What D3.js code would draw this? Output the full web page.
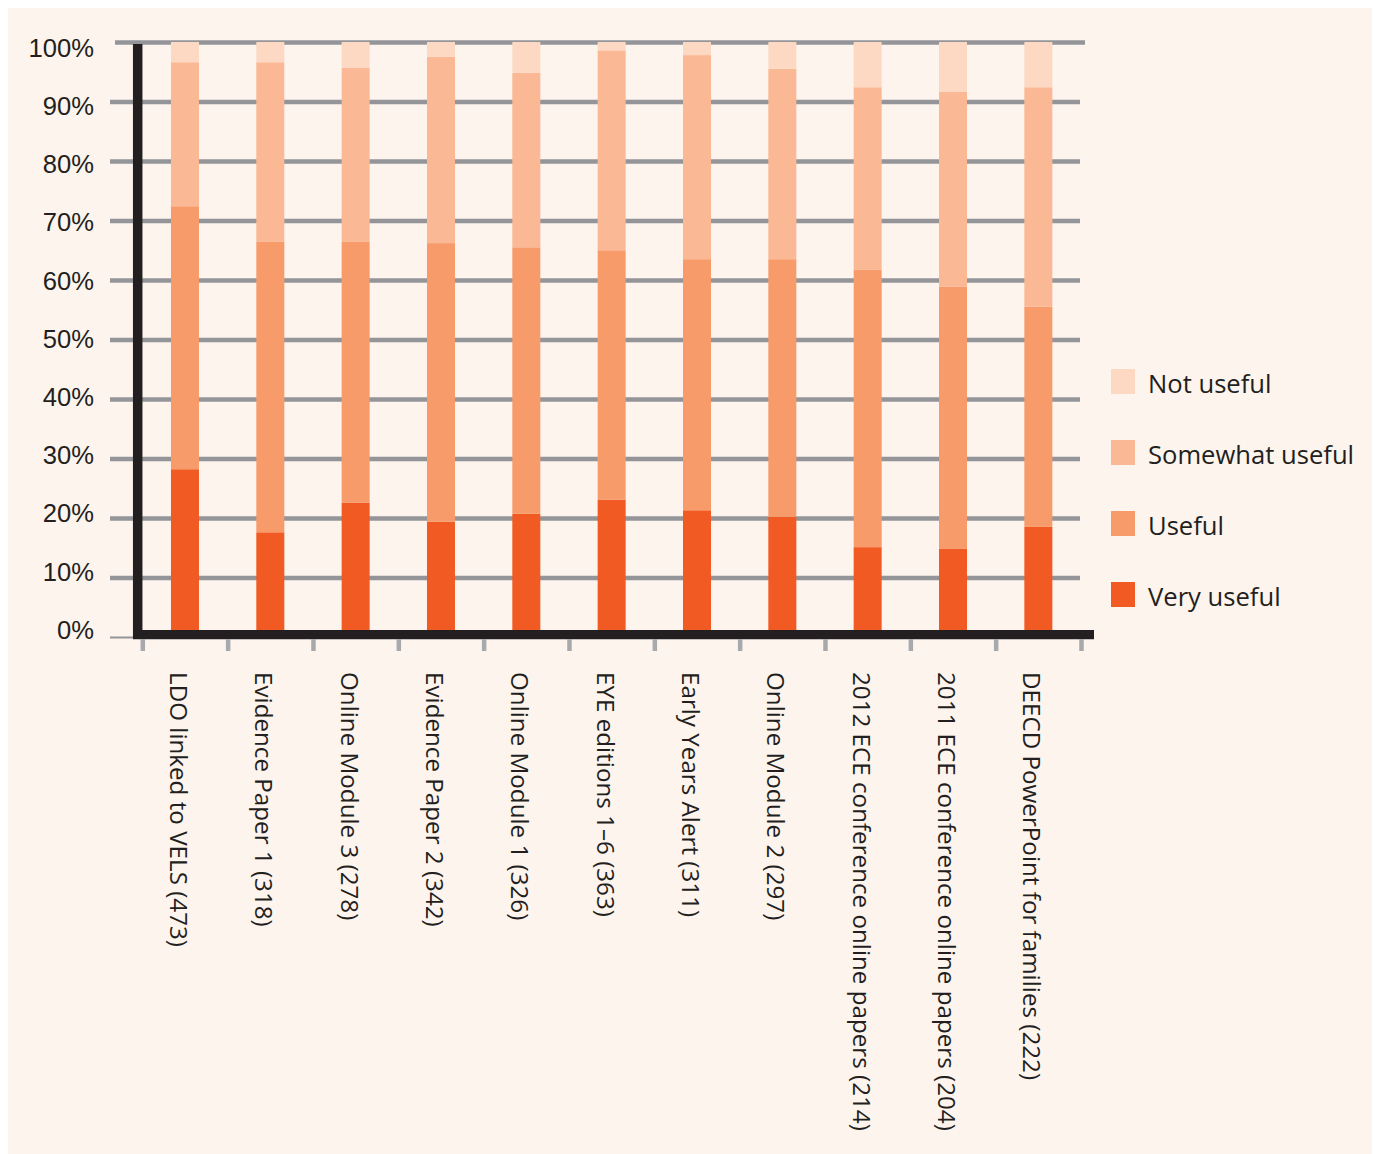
<!DOCTYPE html>
<html>
<head>
<meta charset="utf-8">
<script src="https://cdn.jsdelivr.net/npm/d3@7"></script>
<style>
  body { margin: 0; background: #fff; }
  svg { display: block; font-family: "Open Sans", sans-serif; }
  text { fill: #231f20; }
</style>
</head>
<body>
<svg width="1375" height="1154"></svg>
<script>
const categories = [
  "LDO linked to VELS (473)",
  "Evidence Paper 1 (318)",
  "Online Module 3 (278)",
  "Evidence Paper 2 (342)",
  "Online Module 1 (326)",
  "EYE editions 1–6 (363)",
  "Early Years Alert (311)",
  "Online Module 2 (297)",
  "2012 ECE conference online papers (214)",
  "2011 ECE conference online papers (204)",
  "DEECD PowerPoint for families (222)"
];
const veryUseful     = [28.2, 17.6, 22.6, 19.4, 20.7, 23.1, 21.3, 20.2, 15.1, 14.8, 18.5];
const useful         = [44.2, 48.8, 43.8, 46.8, 44.8, 41.9, 42.2, 43.3, 46.6, 44.1, 37.0];
const somewhatUseful = [24.2, 30.2, 29.3, 31.3, 29.3, 33.6, 34.3, 32.0, 30.7, 32.7, 36.9];
const notUseful      = [3.4, 3.4, 4.3, 2.5, 5.2, 1.4, 2.2, 4.5, 7.6, 8.4, 7.6];
const seriesNames = ["Very useful", "Useful", "Somewhat useful", "Not useful"];
const yTicks = [0, 10, 20, 30, 40, 50, 60, 70, 80, 90, 100];

const colors = {
  "Very useful": "#f15a22",
  "Useful": "#f79b6b",
  "Somewhat useful": "#fab994",
  "Not useful": "#fdd9c3"
};

const svg = d3.select("svg");

svg.append("rect")
    .attr("x", 8).attr("y", 8)
    .attr("width", 1364).attr("height", 1146)
    .attr("fill", "#fdf4ee");

const rows = categories.map((c, i) => ({
  category: c,
  "Very useful": veryUseful[i],
  "Useful": useful[i],
  "Somewhat useful": somewhatUseful[i],
  "Not useful": notUseful[i]
}));

const x = d3.scaleBand()
    .domain(categories)
    .range([142.3, 1081])
    .padding(0);

const y = d3.scaleLinear()
    .domain([0, 100])
    .range([637, 42]);

// labels sit on a slightly tighter scale than the grid in the original
const yLab = d3.scaleLinear()
    .domain([0, 100])
    .range([630, 48]);

// gridlines (the top one is nudged right, the 0% one is a short stub)
const grid = svg.append("g")
    .attr("transform", "translate(110,0)")
    .call(d3.axisLeft(y).tickValues(yTicks).tickSize(-970).tickFormat(""));
grid.select(".domain").remove();
grid.selectAll(".tick line")
    .attr("stroke", "#939598")
    .attr("stroke-width", d => d === 0 ? 2 : 4.7)
    .attr("x1", d => d === 100 ? 5 : 0)
    .attr("x2", d => d === 0 ? 25 : d === 100 ? 975 : 970);

// y labels
const yAxis = svg.append("g")
    .attr("transform", "translate(110,0)")
    .call(d3.axisLeft(yLab).tickValues(yTicks).tickSize(0).tickPadding(16).tickFormat(d => d + "%"));
yAxis.select(".domain").remove();
yAxis.selectAll("text")
    .attr("font-size", 25.6)
    .style("fill", "#231f20");

// stacked bars
const stacked = d3.stack().keys(seriesNames)(rows);
const barW = 28;

svg.append("g")
  .selectAll("g")
  .data(stacked)
  .join("g")
    .attr("fill", d => colors[d.key])
  .selectAll("rect")
  .data(d => d)
  .join("rect")
    .attr("x", d => x(d.data.category) + (x.bandwidth() - barW) / 2)
    .attr("y", d => y(d[1]))
    .attr("width", barW)
    .attr("height", d => y(d[0]) - y(d[1]));

// black axis lines
svg.append("line")
    .attr("x1", 137.7).attr("x2", 137.7)
    .attr("y1", 44).attr("y2", 639)
    .attr("stroke", "#231f20").attr("stroke-width", 9.5);
svg.append("line")
    .attr("x1", 133).attr("x2", 1094)
    .attr("y1", 634.6).attr("y2", 634.6)
    .attr("stroke", "#231f20").attr("stroke-width", 9.4);

// category tick marks at band edges
const edges = d3.scaleLinear().domain([0, categories.length]).range(x.range());
const xTicks = svg.append("g")
    .attr("transform", "translate(0,639)")
    .call(d3.axisBottom(edges).tickValues(d3.range(categories.length + 1)).tickSize(12).tickFormat(""));
xTicks.select(".domain").remove();
xTicks.selectAll(".tick line")
    .attr("stroke", "#a7a9ac")
    .attr("stroke-width", 4.5);

// rotated category labels
svg.append("g")
  .selectAll("text")
  .data(categories)
  .join("text")
    .attr("transform", d => `translate(${x(d) + x.bandwidth() / 2 - 15},672) rotate(90)`)
    .attr("font-size", 24.2)
    .attr("text-anchor", "start")
    .text(d => d);

// legend
const legendOrder = ["Not useful", "Somewhat useful", "Useful", "Very useful"];
const ly = d3.scalePoint().domain(legendOrder).range([369, 582]);

const legend = svg.append("g")
  .selectAll("g")
  .data(legendOrder)
  .join("g")
    .attr("transform", d => `translate(1111,${ly(d)})`);

legend.append("rect")
    .attr("width", 24)
    .attr("height", 25)
    .attr("fill", d => colors[d]);

legend.append("text")
    .attr("x", 37)
    .attr("y", 24)
    .attr("font-size", 25.6)
    .text(d => d);
</script>
</body>
</html>
